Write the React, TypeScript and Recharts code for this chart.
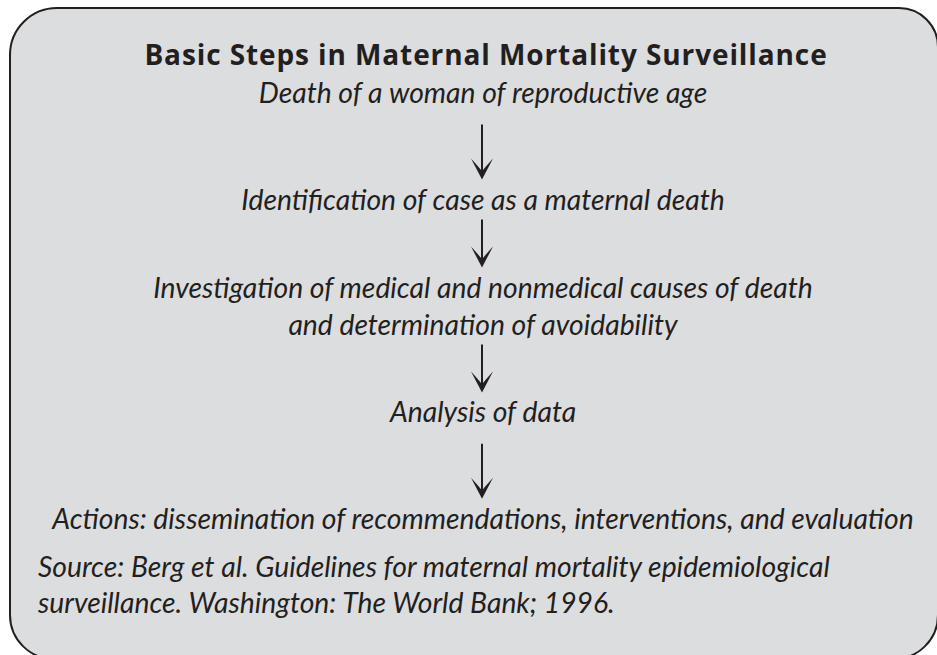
import React from "react";
import { ScatterChart, Scatter, XAxis, YAxis } from "recharts";

const title = "Basic Steps in Maternal Mortality Surveillance";
const stage = "Surveillance";
const steps = [
  "Death of a woman of reproductive age",
  "Identification of case as a maternal death",
  "Investigation of medical and nonmedical causes of death\nand determination of avoidability",
  "Analysis of data",
  "Actions: dissemination of recommendations, interventions, and evaluation",
];
const sourceLines = [
  "Source: Berg et al. Guidelines for maternal mortality epidemiological",
  "surveillance. Washington:  The World Bank; 1996.",
];

const W = 937;
const H = 655;
const MARGIN = { top: 50, right: 0, bottom: 73, left: 29 };
const BAND = (H - MARGIN.top - MARGIN.bottom) / steps.length;
const INK = "#231f20";
const FONT = "Lato, 'Noto Sans', sans-serif";
const LINE_GAP = 37;

const data = steps.map((label, i) => ({
  stage,
  label,
  lines: label.split("\n"),
  next: i < steps.length - 1 ? steps[i + 1].split("\n").length : 0,
}));

const Arrow = ({ x, top, tip }: { x: number; top: number; tip: number }) => (
  <g>
    <line x1={x} y1={top} x2={x} y2={tip - 6} stroke={INK} strokeWidth={2} />
    <path
      d={`M${x - 11},${tip - 21} L${x},${tip} L${x + 11},${tip - 21} Q${x + 1},${tip - 10} ${x},${tip - 8} Q${x - 1},${tip - 10} ${x - 11},${tip - 21} Z`}
      fill={INK}
    />
  </g>
);

const StepShape = (props: any) => {
  const { cx, cy, payload } = props;
  const lines: string[] = payload.lines;
  const first = cy - ((lines.length - 1) * LINE_GAP) / 2;
  const lastLine = first + (lines.length - 1) * LINE_GAP;
  const nextFirst = cy + BAND - ((payload.next - 1) * LINE_GAP) / 2;
  const tip = nextFirst - 30;
  const top = Math.max(tip - 55, lastLine + 10);
  return (
    <g>
      {lines.map((t, i) => (
        <text
          key={i}
          x={cx}
          y={first + i * LINE_GAP}
          textAnchor="middle"
          fontFamily={FONT}
          fontStyle="italic"
          fontSize={28.3}
          fill={INK}
        >
          {t}
        </text>
      ))}
      {payload.next > 0 && <Arrow x={cx - 1} top={top} tip={tip} />}
    </g>
  );
};

export default function App() {
  return (
    <div style={{ position: "fixed", left: 0, top: 0, width: W, height: H, overflow: "hidden", background: "#fff" }}>
      <div
        style={{
          position: "absolute",
          left: 9,
          top: 7,
          width: 930,
          height: 653,
          boxSizing: "border-box",
          border: `2px solid ${INK}`,
          borderRadius: "48px 40px 45px 45px",
          background: "#dcdddf",
        }}
      />
      <svg width={W} height={H} style={{ position: "absolute", left: 0, top: 0 }}>
        <text
          x={486}
          y={65}
          textAnchor="middle"
          fontFamily="'Open Sans', Lato, sans-serif"
          fontWeight="bold"
          fontSize={28}
          letterSpacing={0.9}
          fill={INK}
        >
          {title}
        </text>
        {sourceLines.map((t, i) => (
          <text key={i} x={38} y={577 + i * 36} fontFamily={FONT} fontStyle="italic" fontSize={28.3} fill={INK}>
            {t}
          </text>
        ))}
      </svg>
      <div style={{ position: "absolute", left: 0, top: 0 }}>
        <ScatterChart width={W} height={H} margin={MARGIN}>
          <XAxis type="category" dataKey="stage" allowDuplicatedCategory={false} hide />
          <YAxis type="category" dataKey="label" reversed hide />
          <Scatter data={data} shape={StepShape} isAnimationActive={false} />
        </ScatterChart>
      </div>
    </div>
  );
}
